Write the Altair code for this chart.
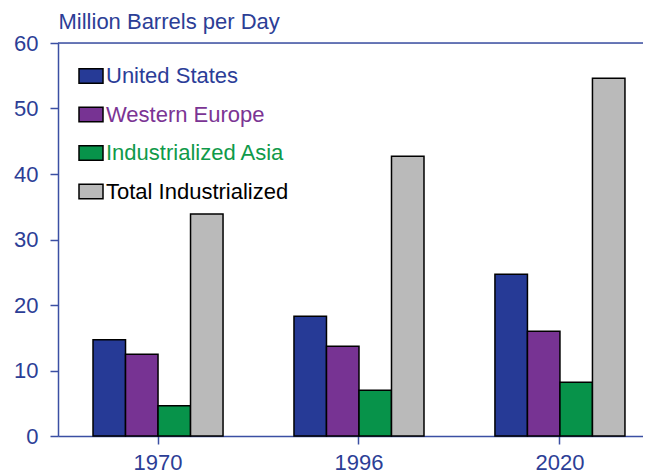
import altair as alt
import pandas as pd

years = ["1970", "1996", "2020"]
series = ["United States", "Western Europe", "Industrialized Asia", "Total Industrialized"]
us = [14.7, 18.3, 24.7]
we = [12.5, 13.7, 16.0]
asia = [4.6, 7.0, 8.2]
total = [33.9, 42.7, 54.6]
colors = ["#263a96", "#773393", "#07934a", "#bababa"]
label_colors = ["#2b3d98", "#7b3494", "#0f9a4a", "#000000"]
y_ticks = [0, 10, 20, 30, 40, 50, 60]
y_max = 60

rows = []
for name, vals in zip(series, [us, we, asia, total]):
    for yr, v in zip(years, vals):
        rows.append({"year": yr, "series": name, "value": v})
df = pd.DataFrame(rows)

axis_color = "#3b4fa3"
text_color = "#2c3e96"
font = "Liberation Sans"
fs = 22

label_expr = " : ".join(
    f"datum.value === '{s}' ? '{c}'" for s, c in zip(series[:-1], label_colors[:-1])
) + f" : '{label_colors[-1]}'"

y_scale = alt.Scale(domain=[0, y_max], nice=False)

bars = alt.Chart(df).mark_bar(stroke="black", strokeWidth=1.5).encode(
    x=alt.X(
        "year:N",
        sort=years,
        scale=alt.Scale(paddingInner=0.353, paddingOuter=0.132, align=0.66),
        axis=alt.Axis(
            title=None, labelAngle=0, labelFont=font, labelFontSize=fs,
            labelColor=text_color, domainColor=axis_color, domainWidth=1.5,
            tickColor=axis_color, tickSize=8, tickWidth=1.5, labelPadding=8,
            grid=False,
        ),
    ),
    xOffset=alt.XOffset("series:N", sort=series,
                        scale=alt.Scale(paddingInner=0, paddingOuter=0)),
    y=alt.Y(
        "value:Q",
        scale=y_scale,
        axis=alt.Axis(
            values=y_ticks, title="Million Barrels per Day", titleAngle=0,
            titleX=0, titleY=-10, titleAlign="left", titleBaseline="bottom",
            titleFont=font, titleFontSize=fs, titleFontWeight="normal",
            titleColor=text_color, labelFont=font, labelFontSize=fs,
            labelColor=text_color, domainColor=axis_color, domainWidth=1.5,
            tickColor=axis_color, tickSize=8, tickWidth=1.5, labelPadding=12,
            grid=False,
        ),
    ),
    color=alt.Color(
        "series:N",
        sort=series,
        scale=alt.Scale(domain=series, range=colors),
        legend=alt.Legend(
            title=None, orient="none", legendX=20, legendY=20, padding=0,
            symbolType="M-1,-0.6H1V0.6H-1Z", symbolSize=576,
            symbolStrokeColor="black", symbolStrokeWidth=1.5,
            symbolOpacity=1,
            labelFont=font, labelFontSize=fs, labelOffset=2,
            labelColor=alt.ExprRef(expr=label_expr),
            rowPadding=14.5, labelLimit=400,
        ),
    ),
)

top_line = alt.Chart(pd.DataFrame({"top": [y_max]})).mark_rule(
    color=axis_color, strokeWidth=1.5
).encode(
    y=alt.Y("top:Q", scale=y_scale),
    x=alt.value(0),
    x2=alt.value(600),
)

chart = alt.layer(bars, top_line).properties(
    width=585, height=393,
    autosize=alt.AutoSizeParams(type="none"),
    padding={"left": 50, "top": 35, "right": 0, "bottom": 40},
).configure_view(
    fill="#dbeded", strokeOpacity=0
).configure(background="white")

chart.save("out.html", embed_options={"renderer": "svg", "actions": False})
